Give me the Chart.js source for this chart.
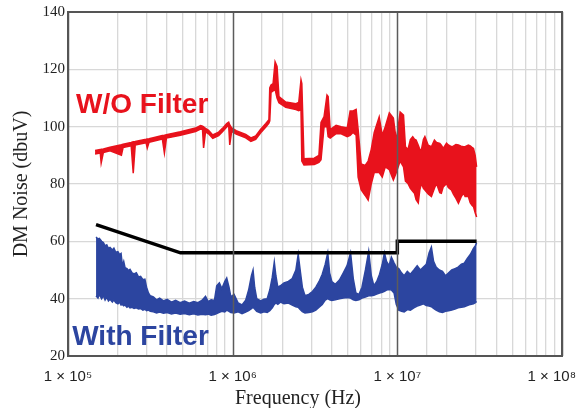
<!DOCTYPE html>
<html>
<head>
<meta charset="utf-8">
<script src="https://cdn.jsdelivr.net/npm/chart.js@4.4.0/dist/chart.umd.min.js"></script>
<style>
  html, body { margin: 0; padding: 0; background: #fff; }
</style>
</head>
<body>
<canvas id="noise" width="582" height="408"></canvas>
<script>
// axis ticks
const decadeTicks = [1e5, 1e6, 1e7, 1e8];
const decadeLabels = ["1 \u00d7 10\u2075", "1 \u00d7 10\u2076", "1 \u00d7 10\u2077", "1 \u00d7 10\u2078"];

// limit line (black)
const limitFreq = [1.48e5, 4.82e5, 1e7, 1e7, 3.03e7];
const limitLevel = [65.8, 56, 56, 60, 60];

// W/O filter trace, upper / lower edge of the noise
const redFreq = [1.46e5, 1.57e5, 1.59e5, 1.64e5, 1.80e5, 2.11e5, 2.16e5, 2.42e5, 2.49e5, 2.56e5,
  2.98e5, 3.03e5, 3.11e5, 3.74e5, 3.85e5, 3.96e5, 4.82e5, 5.95e5, 6.38e5, 6.56e5,
  6.66e5, 6.84e5, 7.14e5, 7.57e5, 8.22e5, 8.67e5, 9.20e5, 9.46e5, 9.60e5, 9.86e5,
  1.05e6, 1.20e6, 1.29e6, 1.38e6, 1.48e6, 1.59e6, 1.66e6, 1.68e6, 1.71e6, 1.76e6, 1.81e6,
  1.86e6, 1.91e6, 2.10e6, 2.42e6, 2.52e6, 2.60e6, 2.63e6, 2.71e6, 3.13e6, 3.34e6,
  3.44e6, 3.59e6, 3.74e6, 3.80e6, 3.91e6, 4.25e6, 4.56e6, 4.96e6, 5.17e6, 5.38e6,
  5.62e6, 5.78e6, 6.03e6, 6.38e6, 6.65e6, 6.94e6, 7.24e6, 7.76e6, 8.10e6, 8.45e6,
  8.94e6, 9.46e6, 9.86e6, 1.04e7, 1.09e7, 1.12e7, 1.16e7, 1.20e7, 1.24e7, 1.27e7,
  1.30e7, 1.34e7, 1.37e7, 1.40e7, 1.44e7, 1.47e7, 1.54e7, 1.61e7, 1.68e7, 1.73e7,
  1.81e7, 1.85e7, 1.90e7, 1.99e7, 2.04e7, 2.13e7, 2.19e7, 2.27e7, 2.35e7, 2.44e7,
  2.52e7, 2.58e7, 2.70e7, 2.77e7, 2.84e7, 2.90e7, 2.97e7, 3.03e7];
const redHi = [91.7, 92.0, 92.1, 92.2, 92.8, 93.7, 93.9, 94.5, 94.7, 94.8,
  95.6, 95.7, 95.8, 96.9, 97.0, 97.2, 98.2, 99.5, 100.4, 100.2,
  99.9, 99.4, 98.7, 97.1, 98.1, 99.4, 101.1, 101.6, 100.6, 99.6,
  98.6, 97.3, 96.1, 96.8, 99.1, 101.1, 102.4, 113.5, 114.5, 115, 122.6,
  121, 110.5, 108.6, 108, 108.5, 116.3, 115, 88.8, 89, 90,
  101.5, 103.5, 111, 110.5, 99, 100.5, 100, 99.5, 105.5, 105.5,
  106, 99, 87, 86.5, 88, 92, 98, 103.4, 97, 100,
  104.8, 103, 95, 105.1, 104, 93, 92, 95.5, 96.5, 95.6,
  95.3, 93.5, 92, 91.9, 95.5, 96.5, 93.5, 93, 95.3, 94.5,
  94.2, 93.5, 92.4, 94.2, 93.6, 93, 93.2, 93.8, 93.6, 93.2,
  93.0, 93.0, 93.6, 93.3, 92.8, 92.4, 90, 86];
const redLo = [90.5, 90.8, 87.3, 91.0, 91.6, 90.0, 92.7, 93.3, 83.8, 93.6,
  94.4, 92.5, 94.6, 95.7, 90.8, 96.0, 97.0, 98.3, 99.2, 99.0,
  92.6, 98.2, 97.5, 95.9, 96.9, 98.2, 99.9, 100.4, 93.6, 98.4,
  97.4, 96.1, 94.9, 95.6, 97.9, 99.9, 101.2, 102, 112, 112.5, 113,
  110, 108.3, 106.8, 106, 105.6, 106, 88, 86.6, 86.8, 87.5,
  88.5, 100, 100, 96.5, 96, 97.6, 97.5, 96.5, 97, 98,
  97, 82.4, 78, 76, 74.4, 80, 84, 84, 82.4, 86,
  85, 81.4, 84, 88, 86, 81, 80.2, 78.5, 77.5, 76.8,
  74.5, 73.4, 78, 80.2, 78.5, 77.9, 76.5, 75.6, 78.5, 80.2,
  77, 76.8, 79, 80.2, 78.8, 77.9, 76.5, 75, 73.3, 75.5,
  76.8, 75.6, 75.6, 73.5, 72.6, 72.1, 70, 68.5];

// With filter trace, upper / lower edge
const blueFreq = [1.48e5, 1.52e5, 1.55e5, 1.60e5, 1.64e5, 1.68e5, 1.72e5, 1.76e5, 1.80e5, 1.86e5,
  1.90e5, 1.95e5, 2.01e5, 2.06e5, 2.10e5, 2.14e5, 2.18e5, 2.22e5, 2.28e5, 2.33e5,
  2.38e5, 2.45e5, 2.52e5, 2.60e5, 2.68e5, 2.76e5, 2.85e5, 2.93e5, 3.00e5, 3.08e5,
  3.16e5, 3.30e5, 3.45e5, 3.60e5, 3.80e5, 4.00e5, 4.25e5, 4.50e5, 4.80e5, 5.10e5,
  5.45e5, 5.80e5, 6.15e5, 6.50e5, 6.84e5, 7.10e5, 7.40e5, 7.75e5, 8.00e5, 8.30e5,
  8.60e5, 8.95e5, 9.20e5, 9.50e5, 9.75e5, 1.02e6, 1.08e6, 1.14e6, 1.20e6, 1.25e6,
  1.30e6, 1.33e6, 1.36e6, 1.40e6, 1.48e6, 1.55e6, 1.62e6, 1.68e6, 1.74e6, 1.79e6,
  1.83e6, 1.88e6, 1.95e6, 2.05e6, 2.18e6, 2.30e6, 2.42e6, 2.50e6, 2.57e6, 2.65e6,
  2.75e6, 2.90e6, 3.05e6, 3.20e6, 3.35e6, 3.50e6, 3.65e6, 3.78e6, 3.88e6, 4.00e6,
  4.20e6, 4.45e6, 4.70e6, 4.95e6, 5.20e6, 5.40e6, 5.60e6, 5.85e6, 6.10e6, 6.40e6,
  6.70e6, 6.95e6, 7.20e6, 7.50e6, 7.80e6, 8.10e6, 8.35e6, 8.60e6, 8.90e6, 9.20e6,
  9.55e6, 9.85e6, 1.02e7, 1.06e7, 1.10e7, 1.15e7, 1.20e7, 1.26e7, 1.32e7, 1.38e7,
  1.44e7, 1.50e7, 1.56e7, 1.61e7, 1.66e7, 1.72e7, 1.80e7, 1.88e7, 1.96e7, 2.05e7,
  2.14e7, 2.24e7, 2.34e7, 2.45e7, 2.55e7, 2.66e7, 2.78e7, 2.90e7, 2.98e7, 3.03e7];
const blueHi = [61.5, 60.8, 61.0, 60.0, 59.6, 58.4, 58.8, 57.6, 57.9, 57.0,
  57.6, 56.2, 56.4, 55.4, 55.8, 51.5, 53.0, 50.8, 50.5, 49.8,
  50.2, 49.0, 48.6, 49.0, 47.6, 47.8, 46.6, 46.8, 44.0, 42.0,
  41.0, 40.6, 39.6, 40.2, 39.2, 39.8, 38.8, 39.4, 38.6, 39.2,
  38.4, 39.0, 38.6, 39.4, 40.8, 39.0, 39.6, 39.4, 44.5, 45.5,
  43.5, 46.0, 47.2, 44.0, 40.6, 41.5, 38.5, 37.8, 39.5, 43.0,
  48.0, 50.0, 44.0, 40.0, 39.2, 39.8, 40.0, 43.0, 47.5, 52.8,
  48.0, 44.0, 44.5, 45.5, 46.0, 47.0, 50.0, 55.5, 50.0, 44.0,
  41.0, 41.5, 42.5, 44.0, 46.0, 48.5, 52.0, 56.0, 49.0, 46.0,
  45.0, 46.5, 49.0, 51.5, 56.0, 47.0, 42.0, 41.5, 44.0, 50.0,
  56.5, 48.0, 44.5, 46.0, 48.5, 52.0, 56.0, 53.0, 51.5, 54.5,
  52.5, 51.0, 50.5, 49.0, 48.0, 49.5, 48.5, 50.0, 51.5, 50.0,
  51.0, 52.0, 56.0, 58.0, 53.0, 51.0, 50.0, 49.5, 48.0, 49.0,
  50.0, 50.5, 51.0, 52.0, 52.4, 54.0, 55.5, 57.5, 58.5, 59.5];
const blueLo = [41.0, 40.2, 41.5, 40.0, 41.0, 39.5, 40.5, 39.2, 39.8, 38.8,
  39.6, 38.6, 38.2, 38.8, 37.8, 38.0, 37.5, 37.8, 37.0, 37.4,
  36.8, 37.0, 36.6, 36.8, 36.4, 36.6, 36.0, 36.3, 35.8, 36.0,
  35.6, 35.4, 35.0, 35.3, 34.9, 35.2, 34.7, 35.0, 34.6, 34.8,
  34.4, 34.7, 34.3, 34.6, 34.4, 34.6, 34.2, 34.5, 34.8, 35.2,
  35.6, 35.4, 36.0, 35.6, 35.2, 35.0, 35.4, 34.8, 35.3, 35.8,
  36.5, 37.0, 36.4, 35.6, 35.0, 35.4, 35.2, 35.8, 36.8, 38.0,
  38.5, 38.0, 38.8, 38.2, 38.5, 37.8, 37.2, 37.0, 36.2, 35.5,
  35.0, 35.2, 35.4, 36.0, 37.0, 38.0, 39.5, 40.0, 39.6, 39.4,
  39.6, 40.0, 40.2, 40.4, 40.2, 39.6, 39.4, 39.6, 40.2, 40.6,
  41.0, 41.0, 41.2, 41.6, 42.0, 42.2, 42.6, 43.0, 43.2, 43.0,
  42.0, 38.0, 36.0, 35.6, 35.4, 36.2, 36.0, 36.8, 37.4, 37.8,
  38.2, 37.6, 37.4, 37.2, 36.6, 36.0, 35.4, 35.2, 35.6, 35.8,
  36.0, 36.4, 36.8, 37.0, 37.2, 37.6, 38.0, 38.2, 38.6, 39.0];

// trace names and where their text starts (frequency, level)
const traceNames = ["W/O Filter", "With Filter"];
const nameAnchors = [[1.12e5, 104.8], [1.06e5, 23.9]];

const RED = "#e8121c";
const BLUE = "#2c45a0";

const toPoints = (xs, ys) => xs.map((v, i) => ({ x: v, y: ys[i] }));
const isDecade = (v) => Math.abs(Math.log10(v) - Math.round(Math.log10(v))) < 1e-6;

// frame, decade lines on top, text labels
const overlay = {
    id: "overlay",
    afterDatasetsDraw(chart) {
        const { ctx, chartArea: a, scales } = chart;
        const x = scales.x;
        const y = scales.y;
        ctx.save();
        ctx.strokeStyle = "#5c5c5c";
        ctx.lineWidth = 1.5;
        decadeTicks.forEach((v) => {
            const px = Math.round(x.getPixelForValue(v)) + 0.5;
            ctx.beginPath();
            ctx.moveTo(px, a.top);
            ctx.lineTo(px, a.bottom);
            ctx.stroke();
        });
        ctx.lineWidth = 2;
        ctx.strokeStyle = "#555";
        ctx.strokeRect(a.left, a.top, a.right - a.left, a.bottom - a.top);

        // trace names
        ctx.font = "bold 28px 'Liberation Sans', Arial, sans-serif";
        ctx.textAlign = "left";
        ctx.textBaseline = "alphabetic";
        [RED, BLUE].forEach((c, i) => {
            ctx.fillStyle = c;
            ctx.fillText(traceNames[i], x.getPixelForValue(nameAnchors[i][0]), y.getPixelForValue(nameAnchors[i][1]));
        });

        // x tick labels
        ctx.fillStyle = "#222";
        ctx.font = "15px 'Liberation Sans', Arial, sans-serif";
        ctx.textAlign = "center";
        ctx.textBaseline = "middle";
        decadeTicks.forEach((v, i) => {
            const w = ctx.measureText(decadeLabels[i]).width;
            const px = Math.min(x.getPixelForValue(v), chart.width - 6 - w / 2);
            ctx.fillText(decadeLabels[i], px, a.bottom + 21);
        });
        // x title
        ctx.font = "20px 'Liberation Serif', 'Times New Roman', serif";
        ctx.fillText("Frequency (Hz)", (a.left + a.right) / 2 - 17, a.bottom + 43);
        ctx.restore();
    }
};

const chart = new Chart(document.getElementById("noise"), {
    type: "line",
    plugins: [overlay],
    data: {
        datasets: [
            {
                data: toPoints(limitFreq, limitLevel),
                borderColor: "#000",
                borderWidth: 3.5,
                fill: false,
                order: 0,
            },
            {
                data: toPoints(redFreq, redHi),
                borderColor: RED,
                backgroundColor: RED,
                borderWidth: 1.5,
                fill: "+1",
                order: 1,
            },
            {
                data: toPoints(redFreq, redLo),
                borderColor: RED,
                borderWidth: 1.5,
                fill: false,
                order: 1,
            },
            {
                data: toPoints(blueFreq, blueHi),
                borderColor: BLUE,
                backgroundColor: BLUE,
                borderWidth: 1.5,
                fill: "+1",
                order: 2,
            },
            {
                data: toPoints(blueFreq, blueLo),
                borderColor: BLUE,
                borderWidth: 1.5,
                fill: false,
                order: 2,
            },
        ],
    },
    options: {
        responsive: false,
        animation: false,
        layout: { padding: { left: 10, right: 20, top: 12, bottom: 52 } },
        elements: { point: { radius: 0 }, line: { tension: 0 } },
        plugins: {
            legend: { display: false },
            tooltip: { enabled: false },
        },
        scales: {
            x: {
                type: "logarithmic",
                min: 1e5,
                max: 1e8,
                border: { display: false },
                ticks: { display: false, autoSkip: false },
                grid: {
                    drawTicks: false,
                    color: (c) => (c.tick && isDecade(c.tick.value) ? "rgba(0,0,0,0)" : "#d8d8d8"),
                    lineWidth: 1.3,
                },
            },
            y: {
                min: 20,
                max: 140,
                border: { display: false },
                afterFit: (s) => { s.width = 58; },
                ticks: {
                    stepSize: 20,
                    padding: 3,
                    color: "#222",
                    font: { family: "'Liberation Serif', 'Times New Roman', serif", size: 15 },
                },
                grid: { drawTicks: false, color: "#d8d8d8", lineWidth: 1.3 },
                title: {
                    display: true,
                    text: "DM Noise (dbuV)",
                    color: "#222",
                    font: { family: "'Liberation Serif', 'Times New Roman', serif", size: 20 },
                    padding: { top: 0, bottom: 4 },
                },
            },
        },
    },
});
</script>
</body>
</html>
